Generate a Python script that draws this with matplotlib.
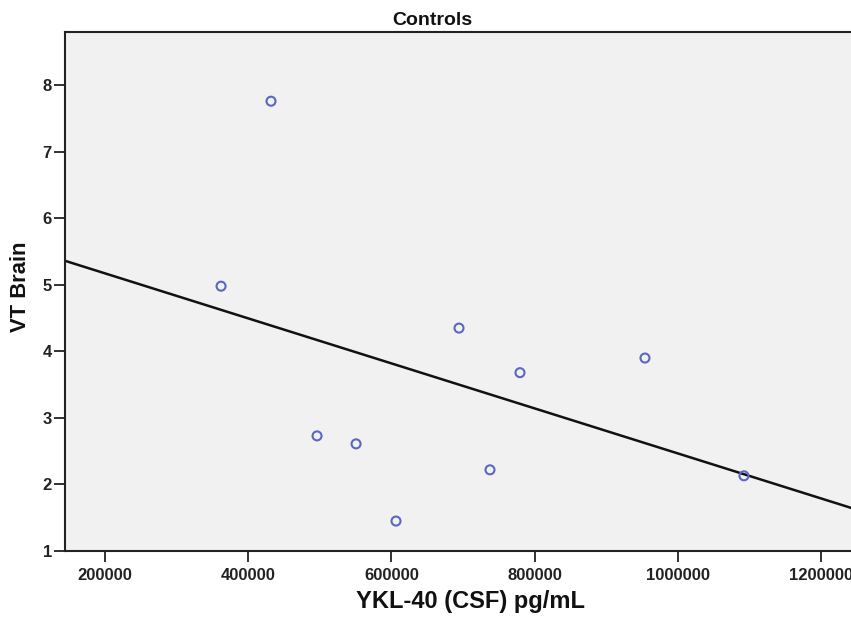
import numpy as np
import matplotlib
matplotlib.use("Agg")
import matplotlib.pyplot as plt

plt.rcParams['font.family'] = ['Liberation Sans', 'DejaVu Sans']

ykl40 = [431800, 362000, 694400, 779600, 954200, 496100, 550600, 737700, 606400, 1092500]
vt_brain = [7.76, 4.98, 4.35, 3.68, 3.90, 2.73, 2.61, 2.22, 1.45, 2.13]
xticks = [200000, 400000, 600000, 800000, 1000000, 1200000]
yticks = [1, 2, 3, 4, 5, 6, 7, 8]
xlim = (144000, 1242000)
ylim = (1, 8.8)

W, H = 851, 617
fig = plt.figure(figsize=(W / 100, H / 100), dpi=100)
ax = fig.add_axes([65/W, 66/H, 786/W, 519/H])
ax.set_facecolor('#F1F1F1')

ax.scatter(ykl40, vt_brain, s=42, facecolors='none', edgecolors='#5A68C0', linewidths=1.5, zorder=3)

slope, intercept = np.polyfit(ykl40, vt_brain, 1)
xl = np.array(xlim)
ax.plot(xl, slope * xl + intercept, color='#111111', lw=1.8, zorder=2)

ax.set_xlim(*xlim)
ax.set_ylim(*ylim)
ax.set_xticks(xticks)
ax.set_xticklabels([str(v) for v in xticks])
ax.set_yticks(yticks)
ax.tick_params(axis='both', length=8, width=1.3, color='#222222', labelsize=12)
ax.tick_params(axis='x', pad=4.5)
ax.tick_params(axis='y', pad=1.5)
for lab in ax.get_xticklabels() + ax.get_yticklabels():
    lab.set_fontweight('bold')
    lab.set_color('#222222')
for sp in ['left', 'bottom', 'top']:
    ax.spines[sp].set_linewidth(1.5)
    ax.spines[sp].set_color('#222222')
ax.spines['right'].set_visible(False)

fig.text(432/W, 1 - 25/H, 'Controls', fontsize=14, fontweight='bold', ha='center', va='baseline', color='#111111')
fig.text(471/W, 1 - 608/H, 'YKL-40 (CSF) pg/mL', fontsize=17, fontweight='bold', ha='center', va='baseline', color='#111111')
fig.text(21/W, 1 - 287/H, 'VT Brain', fontsize=15.8, fontweight='bold', ha='center', va='center', rotation=90, color='#111111')

fig.savefig('out.png', dpi=100)
